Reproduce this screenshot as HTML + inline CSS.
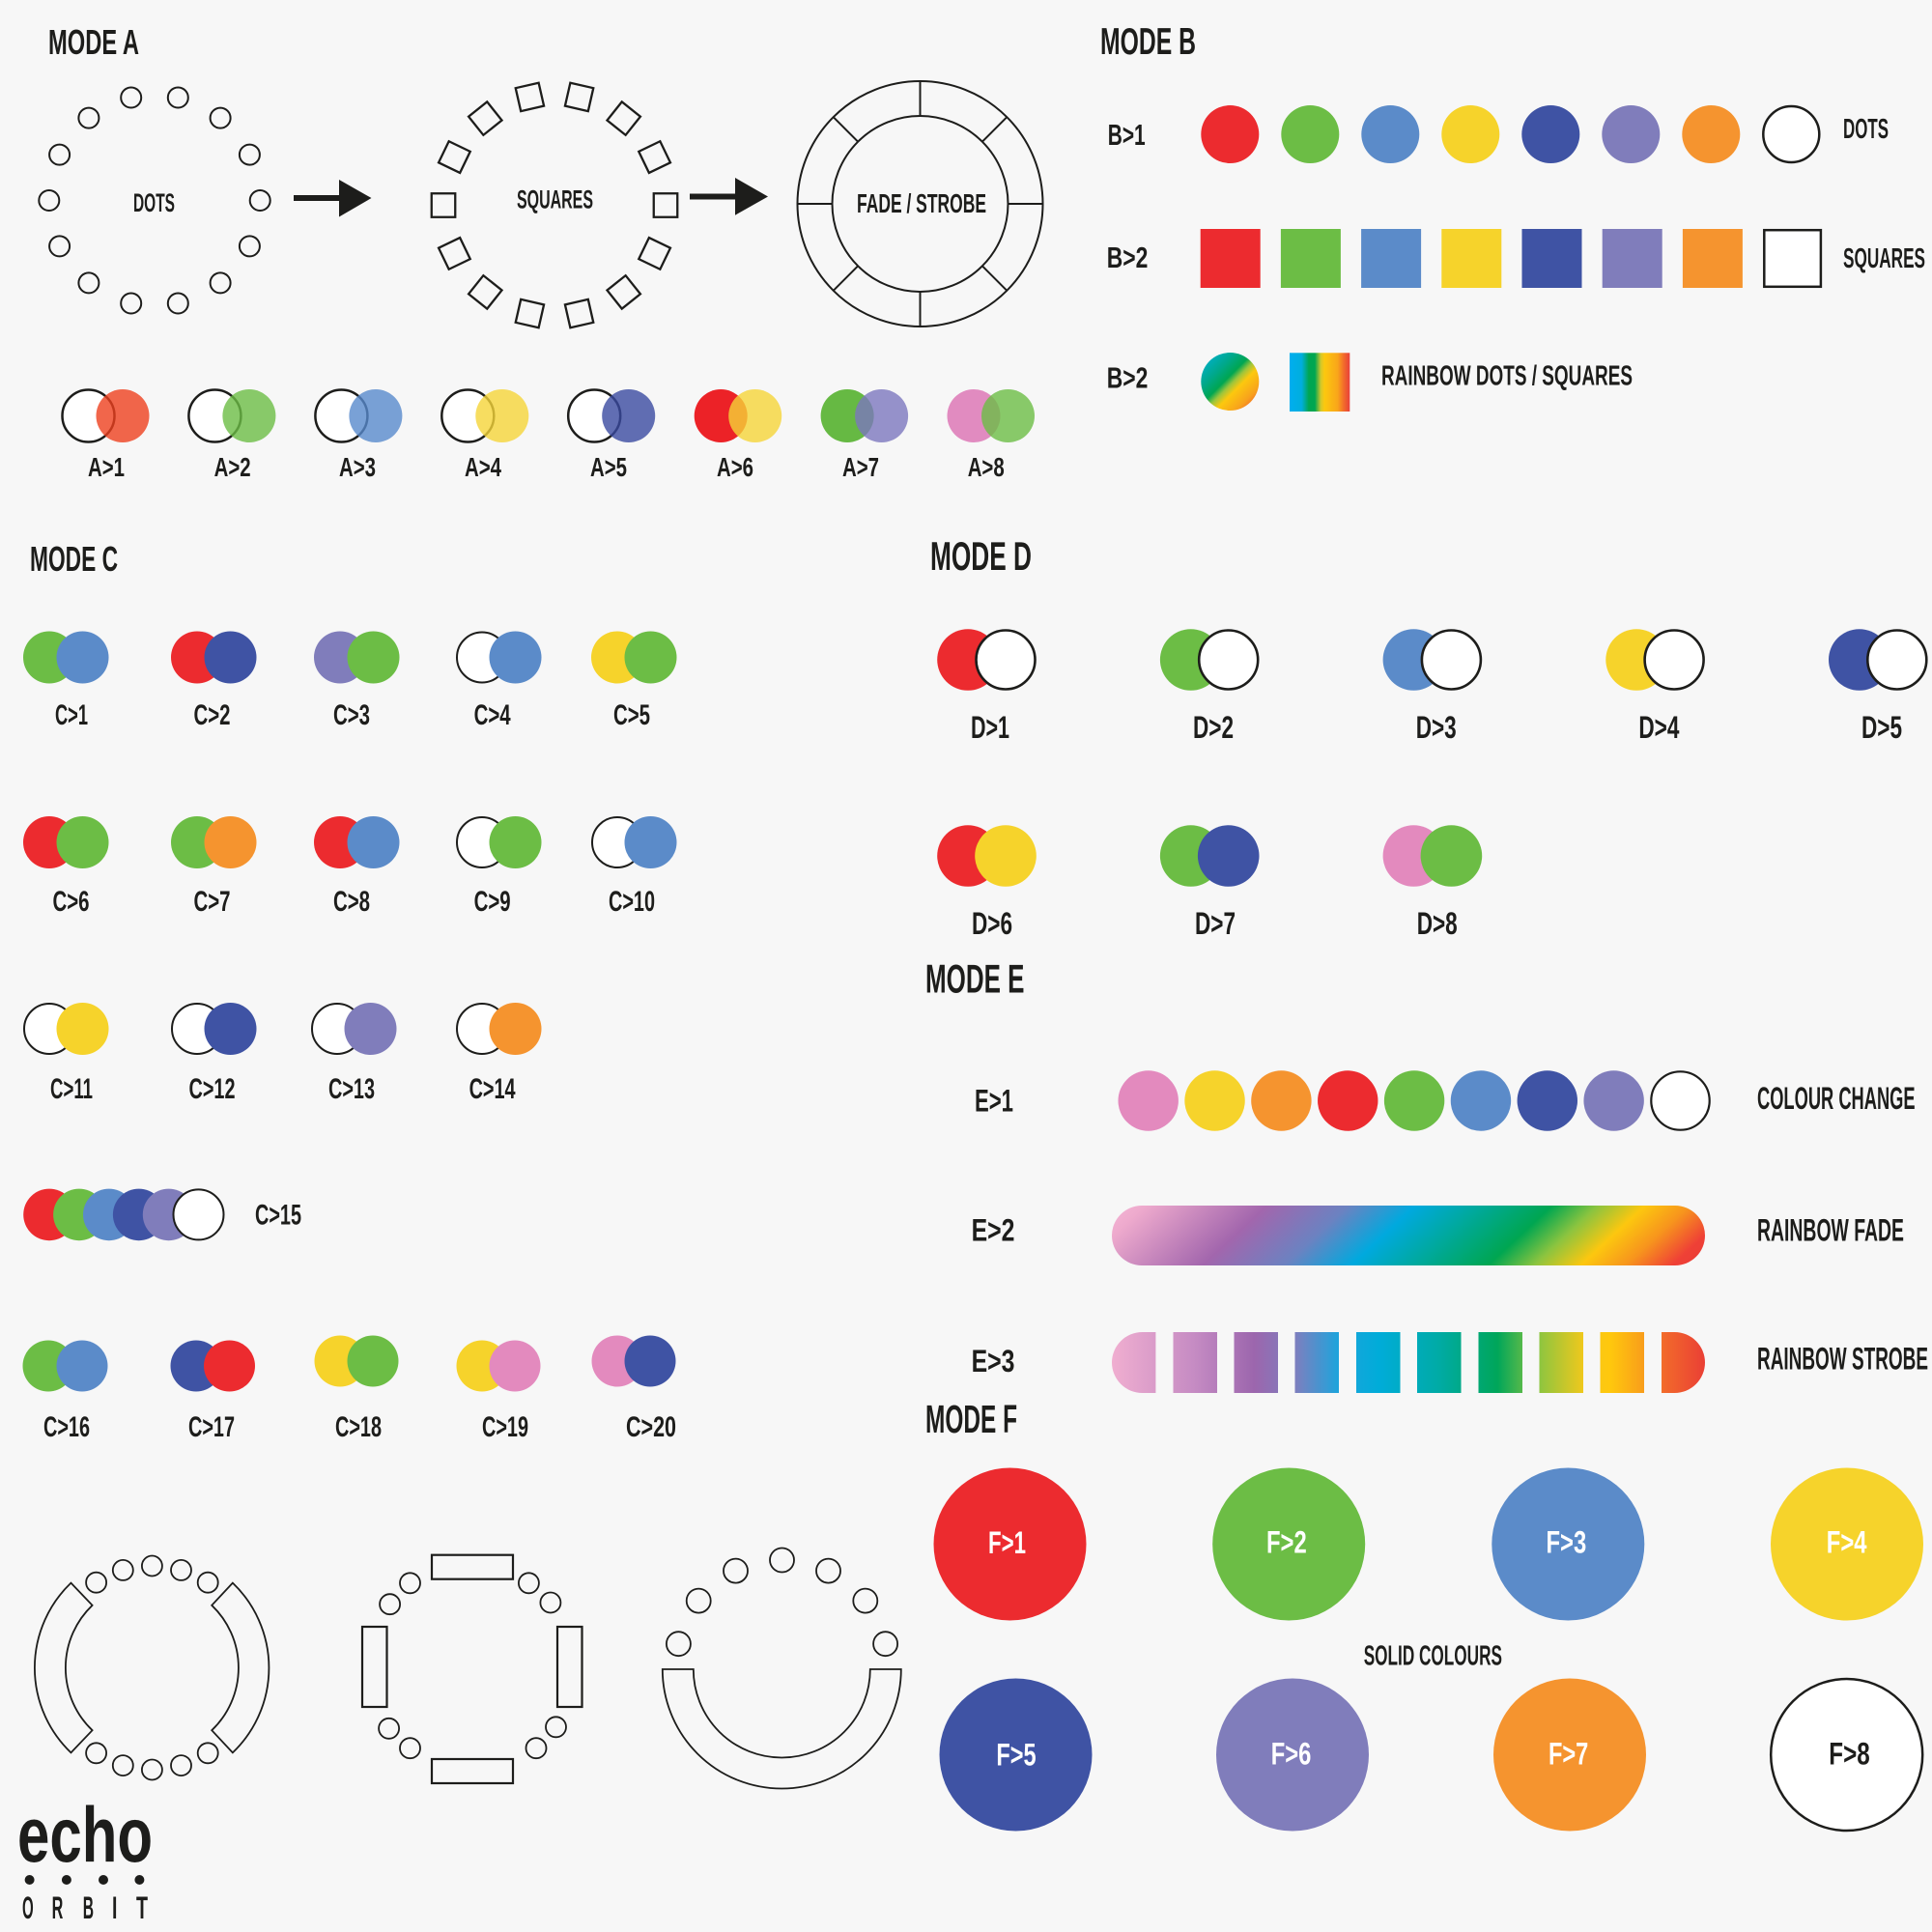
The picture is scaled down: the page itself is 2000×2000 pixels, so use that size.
<!DOCTYPE html>
<html><head><meta charset="utf-8"><style>
html,body{margin:0;padding:0;background:#f7f7f7;}
svg{display:block;}
text{font-family:"Liberation Sans",Arial,sans-serif;font-weight:bold;fill:#1d1d1b;}
</style></head><body>
<svg width="2000" height="2000" viewBox="0 0 2000 2000" xmlns="http://www.w3.org/2000/svg">
<defs>
<linearGradient id="rbc" x1="0" y1="0" x2="1" y2="1">
<stop offset="0" stop-color="#00b3e3"/><stop offset="0.3" stop-color="#00a88a"/><stop offset="0.45" stop-color="#00a651"/><stop offset="0.53" stop-color="#9bc53d"/><stop offset="0.62" stop-color="#fcc80e"/><stop offset="0.8" stop-color="#f8a21c"/><stop offset="1" stop-color="#ee3d37"/>
</linearGradient>
<linearGradient id="rbs" x1="0" y1="0" x2="1" y2="0">
<stop offset="0" stop-color="#00aeef"/><stop offset="0.2" stop-color="#00aedd"/><stop offset="0.32" stop-color="#00a651"/><stop offset="0.42" stop-color="#00a651"/><stop offset="0.52" stop-color="#d4c82a"/><stop offset="0.58" stop-color="#fcc80e"/><stop offset="0.8" stop-color="#f9a51a"/><stop offset="0.9" stop-color="#f26b2b"/><stop offset="1" stop-color="#e8403a"/>
</linearGradient>
<linearGradient id="fade" gradientUnits="userSpaceOnUse" x1="1151" y1="1248" x2="1466.7" y2="1587.3">
<stop offset="0" stop-color="#f4b5d5"/><stop offset="0.05" stop-color="#eeaacd"/><stop offset="0.236" stop-color="#a266ad"/><stop offset="0.36" stop-color="#6b82c1"/><stop offset="0.462" stop-color="#00a9de"/><stop offset="0.56" stop-color="#00a99c"/><stop offset="0.67" stop-color="#00a651"/><stop offset="0.74" stop-color="#8cc43f"/><stop offset="0.811" stop-color="#fcc70f"/><stop offset="0.88" stop-color="#f7941d"/><stop offset="0.95" stop-color="#ef4136"/><stop offset="1" stop-color="#e93a36"/>
</linearGradient>
<linearGradient id="strobe" gradientUnits="userSpaceOnUse" x1="1151" y1="0" x2="1765" y2="0">
<stop offset="0" stop-color="#f0aed0"/><stop offset="0.14" stop-color="#c58bc3"/><stop offset="0.24" stop-color="#9c66ad"/><stop offset="0.31" stop-color="#7d7fbf"/><stop offset="0.38" stop-color="#20a3db"/><stop offset="0.45" stop-color="#00acd9"/><stop offset="0.55" stop-color="#00aba6"/><stop offset="0.65" stop-color="#00a65a"/><stop offset="0.72" stop-color="#8cc540"/><stop offset="0.8" stop-color="#f6c81a"/><stop offset="0.84" stop-color="#ffc80d"/><stop offset="0.91" stop-color="#f7941e"/><stop offset="0.93" stop-color="#f26a2b"/><stop offset="1" stop-color="#ea3f35"/>
</linearGradient>
</defs>

<!-- ===== MODE A ===== -->
<text x="50" y="56" font-size="36.3" textLength="94" lengthAdjust="spacingAndGlyphs">MODE A</text>

<g fill="none" stroke="#1d1d1b" stroke-width="2">
<circle cx="269.2" cy="207.5" r="10.5"/><circle cx="258.4" cy="160.1" r="10.5"/><circle cx="228.1" cy="122.1" r="10.5"/><circle cx="184.3" cy="101" r="10.5"/><circle cx="135.7" cy="101" r="10.5"/><circle cx="91.9" cy="122.1" r="10.5"/><circle cx="61.6" cy="160.1" r="10.5"/><circle cx="50.8" cy="207.5" r="10.5"/><circle cx="61.6" cy="254.9" r="10.5"/><circle cx="91.9" cy="292.9" r="10.5"/><circle cx="135.7" cy="314" r="10.5"/><circle cx="184.3" cy="314" r="10.5"/><circle cx="228.1" cy="292.9" r="10.5"/><circle cx="258.4" cy="254.9" r="10.5"/>
</g>
<text x="138" y="219" font-size="26.5" textLength="43" lengthAdjust="spacingAndGlyphs">DOTS</text>

<g fill="none" stroke="#1d1d1b" stroke-width="2.3">
<rect x="-12.25" y="-12.25" width="24.5" height="24.5" transform="translate(689,212.5)"/>
<rect x="-12.25" y="-12.25" width="24.5" height="24.5" transform="translate(677.6,162.6) rotate(-25.71)"/>
<rect x="-12.25" y="-12.25" width="24.5" height="24.5" transform="translate(645.7,122.6) rotate(-51.43)"/>
<rect x="-12.25" y="-12.25" width="24.5" height="24.5" transform="translate(599.6,100.4) rotate(-77.14)"/>
<rect x="-12.25" y="-12.25" width="24.5" height="24.5" transform="translate(548.4,100.4) rotate(-102.86)"/>
<rect x="-12.25" y="-12.25" width="24.5" height="24.5" transform="translate(502.3,122.6) rotate(-128.57)"/>
<rect x="-12.25" y="-12.25" width="24.5" height="24.5" transform="translate(470.4,162.6) rotate(-154.29)"/>
<rect x="-12.25" y="-12.25" width="24.5" height="24.5" transform="translate(459,212.5)"/>
<rect x="-12.25" y="-12.25" width="24.5" height="24.5" transform="translate(470.4,262.4) rotate(154.29)"/>
<rect x="-12.25" y="-12.25" width="24.5" height="24.5" transform="translate(502.3,302.4) rotate(128.57)"/>
<rect x="-12.25" y="-12.25" width="24.5" height="24.5" transform="translate(548.4,324.6) rotate(102.86)"/>
<rect x="-12.25" y="-12.25" width="24.5" height="24.5" transform="translate(599.6,324.6) rotate(77.14)"/>
<rect x="-12.25" y="-12.25" width="24.5" height="24.5" transform="translate(645.7,302.4) rotate(51.43)"/>
<rect x="-12.25" y="-12.25" width="24.5" height="24.5" transform="translate(677.6,262.4) rotate(25.71)"/>
</g>
<text x="535" y="215.7" font-size="27" textLength="79" lengthAdjust="spacingAndGlyphs">SQUARES</text>

<!-- arrows -->
<rect x="304" y="202" width="50" height="6" fill="#1d1d1b"/>
<polygon points="351,186 384.5,205 351,224.5" fill="#1d1d1b"/>
<rect x="714" y="200.5" width="50" height="6" fill="#1d1d1b"/>
<polygon points="761,184 795,203.5 761,222.7" fill="#1d1d1b"/>

<g fill="none" stroke="#1d1d1b" stroke-width="2">
<circle cx="952.5" cy="211" r="127"/>
<circle cx="952.5" cy="211" r="91"/>
<line x1="1043.5" y1="211" x2="1079.5" y2="211"/>
<line x1="861.5" y1="211" x2="825.5" y2="211"/>
<line x1="952.5" y1="120" x2="952.5" y2="84"/>
<line x1="952.5" y1="302" x2="952.5" y2="338"/>
<line x1="1016.85" y1="146.65" x2="1042.3" y2="121.2"/>
<line x1="1016.85" y1="275.35" x2="1042.3" y2="300.8"/>
<line x1="888.15" y1="146.65" x2="862.7" y2="121.2"/>
<line x1="888.15" y1="275.35" x2="862.7" y2="300.8"/>
</g>
<text x="887" y="220" font-size="28" textLength="134" lengthAdjust="spacingAndGlyphs">FADE / STROBE</text>

<!-- A pairs -->
<g stroke="#1d1d1b" stroke-width="2.5" fill="#fff">
<circle cx="91.5" cy="430.5" r="27"/><circle cx="222.4" cy="430.5" r="27"/><circle cx="353.4" cy="430.5" r="27"/><circle cx="484.3" cy="430.5" r="27"/><circle cx="615.2" cy="430.5" r="27"/>
</g>
<circle cx="127" cy="430.5" r="27.5" fill="#ed401e" fill-opacity="0.8"/>
<circle cx="257.9" cy="430.5" r="27.5" fill="#6cbd45" fill-opacity="0.8"/>
<circle cx="388.9" cy="430.5" r="27.5" fill="#5889cc" fill-opacity="0.8"/>
<circle cx="519.8" cy="430.5" r="27.5" fill="#f5d538" fill-opacity="0.8"/>
<circle cx="650.7" cy="430.5" r="27.5" fill="#3a4aa0" fill-opacity="0.8"/>
<circle cx="746.2" cy="430.5" r="27.5" fill="#ec2227"/>
<circle cx="781.7" cy="430.5" r="27.5" fill="#f5d538" fill-opacity="0.8"/>
<circle cx="877.1" cy="430.5" r="27.5" fill="#66b943"/>
<circle cx="912.6" cy="430.5" r="27.5" fill="#7c77be" fill-opacity="0.8"/>
<circle cx="1008" cy="430.5" r="27.5" fill="#e18bc0"/>
<circle cx="1043.5" cy="430.5" r="27.5" fill="#6cbd45" fill-opacity="0.8"/>
<g font-size="28">
<text x="91" y="493" textLength="38" lengthAdjust="spacingAndGlyphs">A&gt;1</text>
<text x="221.6" y="493" textLength="38" lengthAdjust="spacingAndGlyphs">A&gt;2</text>
<text x="351" y="493" textLength="38" lengthAdjust="spacingAndGlyphs">A&gt;3</text>
<text x="481" y="493" textLength="38" lengthAdjust="spacingAndGlyphs">A&gt;4</text>
<text x="611" y="493" textLength="38" lengthAdjust="spacingAndGlyphs">A&gt;5</text>
<text x="742" y="493" textLength="38" lengthAdjust="spacingAndGlyphs">A&gt;6</text>
<text x="872" y="493" textLength="38" lengthAdjust="spacingAndGlyphs">A&gt;7</text>
<text x="1001.7" y="493" textLength="38" lengthAdjust="spacingAndGlyphs">A&gt;8</text>
</g>

<!-- ===== MODE B ===== -->
<text x="1139" y="56" font-size="39" textLength="99" lengthAdjust="spacingAndGlyphs">MODE B</text>
<g font-size="31">
<text x="1146.7" y="150" textLength="39" lengthAdjust="spacingAndGlyphs">B&gt;1</text>
<text x="1145.7" y="277" textLength="42.6" lengthAdjust="spacingAndGlyphs">B&gt;2</text>
<text x="1145.7" y="401.7" textLength="42.6" lengthAdjust="spacingAndGlyphs">B&gt;2</text>
</g>
<circle cx="1273.3" cy="139" r="30" fill="#ec2b2f"/>
<circle cx="1356.3" cy="139" r="30" fill="#6cbd45"/>
<circle cx="1439.3" cy="139" r="30" fill="#5b8bc9"/>
<circle cx="1522.3" cy="139" r="30" fill="#f6d32b"/>
<circle cx="1605.3" cy="139" r="30" fill="#3f53a4"/>
<circle cx="1688.3" cy="139" r="30" fill="#807dbb"/>
<circle cx="1771.3" cy="139" r="30" fill="#f5942f"/>
<circle cx="1854.3" cy="139" r="29" fill="#fff" stroke="#1d1d1b" stroke-width="2.5"/>
<text x="1908" y="143" font-size="29" textLength="47" lengthAdjust="spacingAndGlyphs">DOTS</text>

<rect x="1242.7" y="237" width="62" height="61" fill="#ec2b2f"/>
<rect x="1325.9" y="237" width="62" height="61" fill="#6cbd45"/>
<rect x="1409.1" y="237" width="62" height="61" fill="#5b8bc9"/>
<rect x="1492.3" y="237" width="62" height="61" fill="#f6d32b"/>
<rect x="1575.5" y="237" width="62" height="61" fill="#3f53a4"/>
<rect x="1658.7" y="237" width="62" height="61" fill="#807dbb"/>
<rect x="1741.9" y="237" width="62" height="61" fill="#f5942f"/>
<rect x="1826.3" y="238.2" width="58.6" height="58.6" fill="#fff" stroke="#1d1d1b" stroke-width="2.5"/>
<text x="1908" y="277" font-size="29" textLength="85" lengthAdjust="spacingAndGlyphs">SQUARES</text>

<circle cx="1273.3" cy="395" r="30" fill="url(#rbc)"/>
<rect x="1335" y="365.3" width="62.3" height="60.7" fill="url(#rbs)"/>
<text x="1430" y="398.3" font-size="29" textLength="260" lengthAdjust="spacingAndGlyphs">RAINBOW DOTS / SQUARES</text>

<!-- ===== MODE C ===== -->
<text x="31" y="591" font-size="36.3" textLength="91" lengthAdjust="spacingAndGlyphs">MODE C</text>
<!-- row 1 -->
<circle cx="51" cy="680.5" r="27" fill="#6cbd45"/><circle cx="85.5" cy="680.5" r="27" fill="#5b8bc9"/>
<circle cx="204" cy="680.5" r="27" fill="#ec2b2f"/><circle cx="238.5" cy="680.5" r="27" fill="#3f53a4"/>
<circle cx="352" cy="680.5" r="27" fill="#807dbb"/><circle cx="386.5" cy="680.5" r="27" fill="#6cbd45"/>
<circle cx="499" cy="680.5" r="26" fill="#fff" stroke="#1d1d1b" stroke-width="2"/><circle cx="533.5" cy="680.5" r="27" fill="#5b8bc9"/>
<circle cx="639" cy="680.5" r="27" fill="#f6d32b"/><circle cx="673.5" cy="680.5" r="27" fill="#6cbd45"/>
<!-- row 2 -->
<circle cx="51" cy="872" r="27" fill="#ec2b2f"/><circle cx="85.5" cy="872" r="27" fill="#6cbd45"/>
<circle cx="204" cy="872" r="27" fill="#6cbd45"/><circle cx="238.5" cy="872" r="27" fill="#f5942f"/>
<circle cx="352" cy="872" r="27" fill="#ec2b2f"/><circle cx="386.5" cy="872" r="27" fill="#5b8bc9"/>
<circle cx="499" cy="872" r="26" fill="#fff" stroke="#1d1d1b" stroke-width="2"/><circle cx="533.5" cy="872" r="27" fill="#6cbd45"/>
<circle cx="639" cy="872" r="26" fill="#fff" stroke="#1d1d1b" stroke-width="2"/><circle cx="673.5" cy="872" r="27" fill="#5b8bc9"/>
<!-- row 3 -->
<circle cx="51" cy="1065" r="26" fill="#fff" stroke="#1d1d1b" stroke-width="2"/><circle cx="85.5" cy="1065" r="27" fill="#f6d32b"/>
<circle cx="204" cy="1065" r="26" fill="#fff" stroke="#1d1d1b" stroke-width="2"/><circle cx="238.5" cy="1065" r="27" fill="#3f53a4"/>
<circle cx="349" cy="1065" r="26" fill="#fff" stroke="#1d1d1b" stroke-width="2"/><circle cx="383.5" cy="1065" r="27" fill="#807dbb"/>
<circle cx="499" cy="1065" r="26" fill="#fff" stroke="#1d1d1b" stroke-width="2"/><circle cx="533.5" cy="1065" r="27" fill="#f5942f"/>
<!-- C15 -->
<circle cx="51" cy="1257.4" r="26.8" fill="#ec2b2f"/>
<circle cx="81.9" cy="1257.4" r="26.8" fill="#6cbd45"/>
<circle cx="112.8" cy="1257.4" r="26.8" fill="#5b8bc9"/>
<circle cx="143.7" cy="1257.4" r="26.8" fill="#3f53a4"/>
<circle cx="174.6" cy="1257.4" r="26.8" fill="#807dbb"/>
<circle cx="205.5" cy="1257.4" r="26" fill="#fff" stroke="#1d1d1b" stroke-width="2"/>
<!-- row 5 -->
<circle cx="50" cy="1414" r="26.5" fill="#6cbd45"/><circle cx="85" cy="1414" r="26.5" fill="#5b8bc9"/>
<circle cx="203" cy="1414" r="26.5" fill="#3f53a4"/><circle cx="237.5" cy="1414" r="26.5" fill="#ec2b2f"/>
<circle cx="352" cy="1409" r="26.5" fill="#f6d32b"/><circle cx="386" cy="1409" r="26.5" fill="#6cbd45"/>
<circle cx="499" cy="1414" r="26.5" fill="#f6d32b"/><circle cx="533" cy="1414" r="26.5" fill="#e38abe"/>
<circle cx="639" cy="1409" r="26.5" fill="#e38abe"/><circle cx="673" cy="1409" r="26.5" fill="#3f53a4"/>

<g font-size="29.3">
<text x="57" y="750" textLength="34" lengthAdjust="spacingAndGlyphs">C&gt;1</text>
<text x="200.5" y="750" textLength="38" lengthAdjust="spacingAndGlyphs">C&gt;2</text>
<text x="345" y="750" textLength="38" lengthAdjust="spacingAndGlyphs">C&gt;3</text>
<text x="490.6" y="750" textLength="38" lengthAdjust="spacingAndGlyphs">C&gt;4</text>
<text x="635" y="750" textLength="38" lengthAdjust="spacingAndGlyphs">C&gt;5</text>
<text x="54.5" y="943" textLength="38" lengthAdjust="spacingAndGlyphs">C&gt;6</text>
<text x="200.5" y="943" textLength="38" lengthAdjust="spacingAndGlyphs">C&gt;7</text>
<text x="345" y="943" textLength="38" lengthAdjust="spacingAndGlyphs">C&gt;8</text>
<text x="490.6" y="943" textLength="38" lengthAdjust="spacingAndGlyphs">C&gt;9</text>
<text x="630" y="943" textLength="48" lengthAdjust="spacingAndGlyphs">C&gt;10</text>
<text x="52" y="1137" textLength="44" lengthAdjust="spacingAndGlyphs">C&gt;11</text>
<text x="195.5" y="1137" textLength="48" lengthAdjust="spacingAndGlyphs">C&gt;12</text>
<text x="340" y="1137" textLength="48" lengthAdjust="spacingAndGlyphs">C&gt;13</text>
<text x="485.6" y="1137" textLength="48" lengthAdjust="spacingAndGlyphs">C&gt;14</text>
<text x="264" y="1267.5" textLength="48" lengthAdjust="spacingAndGlyphs">C&gt;15</text>
<text x="45" y="1487" textLength="48" lengthAdjust="spacingAndGlyphs">C&gt;16</text>
<text x="195" y="1487" textLength="48" lengthAdjust="spacingAndGlyphs">C&gt;17</text>
<text x="347" y="1487" textLength="48" lengthAdjust="spacingAndGlyphs">C&gt;18</text>
<text x="499" y="1487" textLength="48" lengthAdjust="spacingAndGlyphs">C&gt;19</text>
<text x="648" y="1487" textLength="52" lengthAdjust="spacingAndGlyphs">C&gt;20</text>
</g>

<!-- bottom shapes -->
<g fill="none" stroke="#1d1d1b" stroke-width="1.8">
<path d="M73.46,1638.66 A121.5,121.5 0 0 0 73.46,1814.34 L95.56,1791.21 A89.5,89.5 0 0 1 95.56,1661.79 Z"/>
<path d="M240.86,1638.66 A121.5,121.5 0 0 1 240.86,1814.34 L219.24,1791.21 A89.5,89.5 0 0 0 219.24,1661.79 Z"/>
<circle cx="99.6" cy="1638.2" r="10.5"/><circle cx="127.3" cy="1625.4" r="10.5"/><circle cx="157.4" cy="1621" r="10.5"/><circle cx="187.5" cy="1625.4" r="10.5"/><circle cx="215.2" cy="1638.2" r="10.5"/>
<circle cx="99.6" cy="1814.8" r="10.5"/><circle cx="127.3" cy="1827.6" r="10.5"/><circle cx="157.4" cy="1832" r="10.5"/><circle cx="187.5" cy="1827.6" r="10.5"/><circle cx="215.2" cy="1814.8" r="10.5"/>
</g>
<g fill="none" stroke="#1d1d1b" stroke-width="2.2">
<rect x="447" y="1609.7" width="84" height="25"/>
<rect x="447" y="1821" width="84" height="25"/>
<rect x="375" y="1684" width="25.5" height="83"/>
<rect x="577" y="1684" width="25.5" height="83"/>
</g>
<g fill="none" stroke="#1d1d1b" stroke-width="1.8">
<circle cx="424.5" cy="1638.8" r="10.5"/><circle cx="403.6" cy="1660.7" r="10.5"/>
<circle cx="547.4" cy="1638.8" r="10.5"/><circle cx="569.9" cy="1659" r="10.5"/>
<circle cx="402.6" cy="1789.3" r="10.5"/><circle cx="424.5" cy="1809.7" r="10.5"/>
<circle cx="575.5" cy="1787.8" r="10.5"/><circle cx="555" cy="1809.7" r="10.5"/>
<path d="M685.8,1728 A123.5,123.5 0 0 0 932.8,1728 L900.8,1728 A91.5,91.5 0 0 1 717.8,1728 Z"/>
<circle cx="916.6" cy="1701.7" r="12.5"/><circle cx="895.8" cy="1657.1" r="12.5"/><circle cx="857.5" cy="1626.1" r="12.5"/><circle cx="809.5" cy="1615" r="12.5"/><circle cx="761.5" cy="1626.1" r="12.5"/><circle cx="723.2" cy="1657.1" r="12.5"/><circle cx="702.4" cy="1701.7" r="12.5"/>
</g>

<!-- logo -->
<text x="18" y="1927" font-size="81" textLength="140" lengthAdjust="spacingAndGlyphs">echo</text>
<circle cx="30.6" cy="1946" r="5" fill="#1d1d1b"/><circle cx="68.9" cy="1946" r="5" fill="#1d1d1b"/><circle cx="107" cy="1946" r="5" fill="#1d1d1b"/><circle cx="144.4" cy="1946" r="5" fill="#1d1d1b"/>
<g font-size="32">
<text x="23" y="1986" textLength="11.7" lengthAdjust="spacingAndGlyphs">O</text>
<text x="53.6" y="1986" textLength="11.7" lengthAdjust="spacingAndGlyphs">R</text>
<text x="85.7" y="1986" textLength="11.3" lengthAdjust="spacingAndGlyphs">B</text>
<text x="116" y="1986" textLength="5.4" lengthAdjust="spacingAndGlyphs">I</text>
<text x="141" y="1986" textLength="12" lengthAdjust="spacingAndGlyphs">T</text>
</g>

<!-- ===== MODE D ===== -->
<text x="963" y="590" font-size="42" textLength="105" lengthAdjust="spacingAndGlyphs">MODE D</text>
<circle cx="1002" cy="683" r="31.8" fill="#ec2b2f"/><circle cx="1041" cy="683" r="30.5" fill="#fff" stroke="#1d1d1b" stroke-width="2.6"/>
<circle cx="1232.7" cy="683" r="31.8" fill="#6cbd45"/><circle cx="1271.7" cy="683" r="30.5" fill="#fff" stroke="#1d1d1b" stroke-width="2.6"/>
<circle cx="1463.4" cy="683" r="31.8" fill="#5b8bc9"/><circle cx="1502.4" cy="683" r="30.5" fill="#fff" stroke="#1d1d1b" stroke-width="2.6"/>
<circle cx="1694.1" cy="683" r="31.8" fill="#f6d32b"/><circle cx="1733.1" cy="683" r="30.5" fill="#fff" stroke="#1d1d1b" stroke-width="2.6"/>
<circle cx="1924.8" cy="683" r="31.8" fill="#3f53a4"/><circle cx="1963.8" cy="683" r="30.5" fill="#fff" stroke="#1d1d1b" stroke-width="2.6"/>
<circle cx="1002" cy="886" r="31.8" fill="#ec2b2f"/><circle cx="1041" cy="886" r="31.8" fill="#f6d32b"/>
<circle cx="1232.7" cy="886" r="31.8" fill="#6cbd45"/><circle cx="1271.7" cy="886" r="31.8" fill="#3f53a4"/>
<circle cx="1463.4" cy="886" r="31.8" fill="#e38abe"/><circle cx="1502.4" cy="886" r="31.8" fill="#6cbd45"/>
<g font-size="32.7">
<text x="1005" y="764" textLength="40" lengthAdjust="spacingAndGlyphs">D&gt;1</text>
<text x="1235" y="764" textLength="42" lengthAdjust="spacingAndGlyphs">D&gt;2</text>
<text x="1465.7" y="764" textLength="42" lengthAdjust="spacingAndGlyphs">D&gt;3</text>
<text x="1696.4" y="764" textLength="42" lengthAdjust="spacingAndGlyphs">D&gt;4</text>
<text x="1927" y="764" textLength="42" lengthAdjust="spacingAndGlyphs">D&gt;5</text>
<text x="1006" y="967" textLength="42" lengthAdjust="spacingAndGlyphs">D&gt;6</text>
<text x="1237" y="967" textLength="42" lengthAdjust="spacingAndGlyphs">D&gt;7</text>
<text x="1466.7" y="967" textLength="42" lengthAdjust="spacingAndGlyphs">D&gt;8</text>
</g>

<!-- ===== MODE E ===== -->
<text x="958" y="1027.5" font-size="42" textLength="102.5" lengthAdjust="spacingAndGlyphs">MODE E</text>
<g font-size="32.7">
<text x="1009" y="1150.7" textLength="40" lengthAdjust="spacingAndGlyphs">E&gt;1</text>
<text x="1005.6" y="1284.7" textLength="44.8" lengthAdjust="spacingAndGlyphs">E&gt;2</text>
<text x="1005.6" y="1420" textLength="44.8" lengthAdjust="spacingAndGlyphs">E&gt;3</text>
<text x="1819" y="1148" textLength="163.6" lengthAdjust="spacingAndGlyphs">COLOUR CHANGE</text>
<text x="1819" y="1284.7" textLength="152" lengthAdjust="spacingAndGlyphs">RAINBOW FADE</text>
<text x="1819" y="1417.7" textLength="177" lengthAdjust="spacingAndGlyphs">RAINBOW STROBE</text>
</g>
<circle cx="1188.7" cy="1139.5" r="31.2" fill="#e38abe"/>
<circle cx="1257.55" cy="1139.5" r="31.2" fill="#f6d32b"/>
<circle cx="1326.4" cy="1139.5" r="31.2" fill="#f5942f"/>
<circle cx="1395.25" cy="1139.5" r="31.2" fill="#ec2b2f"/>
<circle cx="1464.1" cy="1139.5" r="31.2" fill="#6cbd45"/>
<circle cx="1532.95" cy="1139.5" r="31.2" fill="#5b8bc9"/>
<circle cx="1601.8" cy="1139.5" r="31.2" fill="#3f53a4"/>
<circle cx="1670.65" cy="1139.5" r="31.2" fill="#807dbb"/>
<circle cx="1739.5" cy="1139.5" r="30.2" fill="#fff" stroke="#1d1d1b" stroke-width="2.2"/>

<rect x="1151" y="1248" width="614" height="62" rx="31" ry="31" fill="url(#fade)"/>

<g fill="url(#strobe)">
<path d="M1196.4,1379 L1182.5,1379 A31.5,31.5 0 0 0 1182.5,1442 L1196.4,1442 Z"/>
<rect x="1214.5" y="1379" width="45.5" height="63"/>
<rect x="1277.5" y="1379" width="45.5" height="63"/>
<rect x="1340.5" y="1379" width="45.5" height="63"/>
<rect x="1404" y="1379" width="45.5" height="63"/>
<rect x="1467" y="1379" width="45.5" height="63"/>
<rect x="1530.5" y="1379" width="45.5" height="63"/>
<rect x="1593.5" y="1379" width="45.5" height="63"/>
<rect x="1656.5" y="1379" width="45.5" height="63"/>
<path d="M1720,1379 L1733.5,1379 A31.5,31.5 0 0 1 1733.5,1442 L1720,1442 Z"/>
</g>

<!-- ===== MODE F ===== -->
<text x="958" y="1483" font-size="40.5" textLength="95" lengthAdjust="spacingAndGlyphs">MODE F</text>
<circle cx="1045.5" cy="1598.5" r="79" fill="#ec2b2f"/>
<circle cx="1334.2" cy="1598.5" r="79" fill="#6cbd45"/>
<circle cx="1623.3" cy="1598.5" r="79" fill="#5b8bc9"/>
<circle cx="1912" cy="1598.5" r="79" fill="#f6d32b"/>
<circle cx="1051.5" cy="1816.5" r="79" fill="#3f53a4"/>
<circle cx="1338" cy="1816.5" r="79" fill="#807dbb"/>
<circle cx="1625" cy="1816.5" r="79" fill="#f5942f"/>
<circle cx="1911.7" cy="1816.5" r="78.5" fill="#fff" stroke="#1d1d1b" stroke-width="2.5"/>
<g font-size="32" style="fill:#fff">
<text x="1023" y="1608" textLength="39" lengthAdjust="spacingAndGlyphs" style="fill:#fff">F&gt;1</text>
<text x="1311" y="1607.3" textLength="41.7" lengthAdjust="spacingAndGlyphs" style="fill:#fff">F&gt;2</text>
<text x="1600.5" y="1607.3" textLength="41.7" lengthAdjust="spacingAndGlyphs" style="fill:#fff">F&gt;3</text>
<text x="1890.8" y="1607.3" textLength="41.7" lengthAdjust="spacingAndGlyphs" style="fill:#fff">F&gt;4</text>
<text x="1031.4" y="1827.5" textLength="41.2" lengthAdjust="spacingAndGlyphs" style="fill:#fff">F&gt;5</text>
<text x="1315.7" y="1826.7" textLength="41.6" lengthAdjust="spacingAndGlyphs" style="fill:#fff">F&gt;6</text>
<text x="1603" y="1826.7" textLength="41.3" lengthAdjust="spacingAndGlyphs" style="fill:#fff">F&gt;7</text>
</g>
<text x="1893.3" y="1826.7" font-size="32" textLength="42.4" lengthAdjust="spacingAndGlyphs">F&gt;8</text>
<text x="1411.7" y="1723.3" font-size="28.3" textLength="143.3" lengthAdjust="spacingAndGlyphs">SOLID COLOURS</text>
</svg>
</body></html>
